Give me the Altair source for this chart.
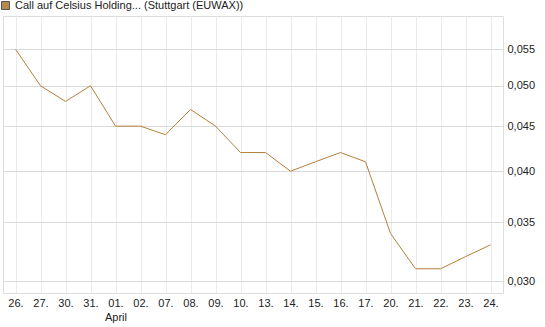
import altair as alt
import pandas as pd

dates = ["26.", "27.", "30.", "31.", "01.", "02.", "07.", "08.", "09.", "10.",
         "13.", "14.", "15.", "16.", "17.", "20.", "21.", "22.", "23.", "24."]
values = [0.055, 0.050, 0.048, 0.050, 0.045, 0.045, 0.044, 0.047, 0.045, 0.042,
          0.042, 0.040, 0.041, 0.042, 0.041, 0.034, 0.031, 0.031, 0.032, 0.033]
y_ticks = [0.030, 0.035, 0.040, 0.045, 0.050, 0.055]
series_name = "Call auf Celsius Holding... (Stuttgart (EUWAX))"

df = pd.DataFrame({"date": dates, "value": values, "series": series_name})

FONT = "Liberation Sans"

base = alt.Chart(df).encode(
    x=alt.X("date:O", sort=dates, title=None,
            scale=alt.Scale(type="point", padding=0.5),
            axis=alt.Axis(labelAngle=0, ticks=False, domain=False,
                          grid=True, gridColor="#ebebeb",
                          labelFont=FONT, labelFontSize=11, labelColor="#222",
                          labelPadding=4, labelLineHeight=14,
                          labelExpr="datum.value == '01.' ? ['01.', 'April'] : datum.value")),
    y=alt.Y("value:Q", title=None,
            scale=alt.Scale(type="log", domain=[0.0291, 0.0600], nice=False, zero=False),
            axis=alt.Axis(orient="right", values=y_ticks, ticks=False, domain=False,
                          grid=True, gridColor="#dadada",
                          labelFont=FONT, labelFontSize=11, labelColor="#222",
                          labelPadding=4,
                          labelExpr="replace(format(datum.value, '.3f'), '.', ',')")),
)

line = base.mark_line(strokeWidth=1, color="#b5803a")

legend_pts = base.mark_point(shape="square", filled=True, stroke="#555555",
                             strokeWidth=1, opacity=1).encode(
    fill=alt.Fill("series:N", scale=alt.Scale(range=["#b8894d"]),
                  legend=alt.Legend(orient="none", legendX=-3, legendY=-16,
                                    title=None, symbolType="square", symbolSize=64,
                                    symbolStrokeColor="#555555", symbolStrokeWidth=1,
                                    symbolOpacity=1,
                                    labelFont=FONT, labelFontSize=11, labelColor="#222",
                                    labelLimit=400, padding=0, offset=0, labelOffset=4)),
    size=alt.value(0),
)

chart = alt.layer(line, legend_pts).properties(
    width=500, height=277,
    autosize=alt.AutoSizeParams(type="none"),
    padding={"left": 3, "top": 16, "right": 42, "bottom": 34},
).configure_view(
    stroke="#cccccc", strokeWidth=1
).configure(background="white")

chart.save("out.html", embed_options={"renderer": "svg", "actions": False})
